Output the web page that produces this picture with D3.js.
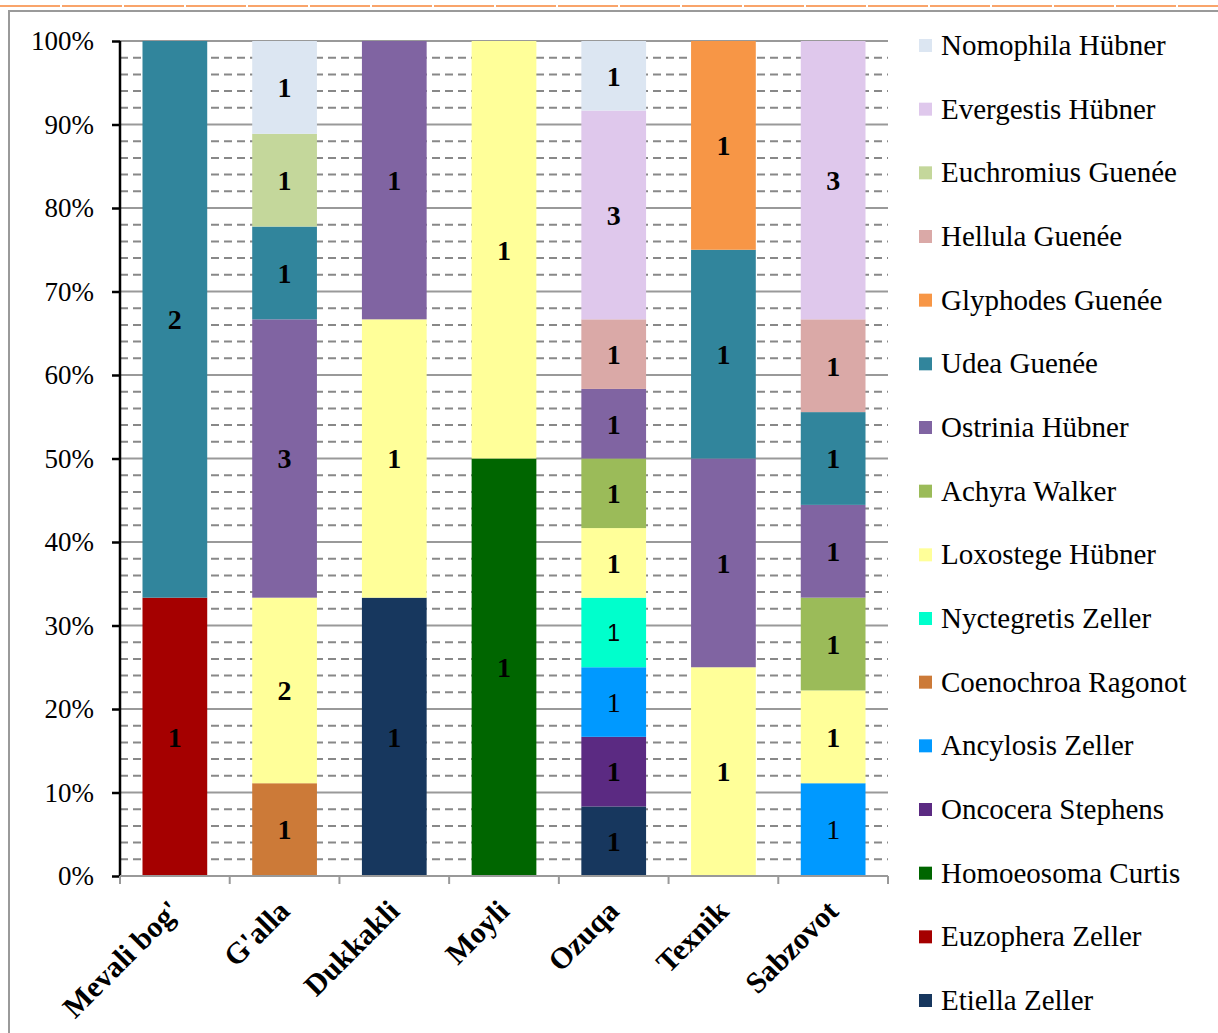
<!DOCTYPE html>
<html>
<head>
<meta charset="utf-8">
<script src="https://cdn.jsdelivr.net/npm/d3@7"></script>
<style>
  body { margin: 0; background: #fff; }
  svg { display: block; }
</style>
</head>
<body>
<svg id="chart"></svg>
<script>
// categories on the x axis
const categories = ["Mevali bog'", "G'alla", 'Dukkakli', 'Moyli', 'Ozuqa', 'Texnik', 'Sabzovot'];

// series, bottom of the stack first
const seriesNames = [
  'Etiella Zeller', 'Euzophera Zeller', 'Homoeosoma Curtis', 'Oncocera Stephens',
  'Ancylosis Zeller', 'Coenochroa Ragonot', 'Nyctegretis Zeller', 'Loxostege Hübner',
  'Achyra Walker', 'Ostrinia Hübner', 'Udea Guenée', 'Glyphodes Guenée',
  'Hellula Guenée', 'Euchromius Guenée', 'Evergestis Hübner', 'Nomophila Hübner',
];

const seriesColors = [
  '#17375E', '#A50000', '#006600', '#5B2A82',
  '#0099FF', '#CC7A38', '#00FFCC', '#FFFF99',
  '#9BBB59', '#8064A2', '#31859C', '#F79646',
  '#DAA9A7', '#C4D79B', '#DFC8EC', '#DCE6F2',
];

// counts per series, one value per category
const etiella     = [0, 0, 1, 0, 1, 0, 0];
const euzophera   = [1, 0, 0, 0, 0, 0, 0];
const homoeosoma  = [0, 0, 0, 1, 0, 0, 0];
const oncocera    = [0, 0, 0, 0, 1, 0, 0];
const ancylosis   = [0, 0, 0, 0, 1, 0, 1];
const coenochroa  = [0, 1, 0, 0, 0, 0, 0];
const nyctegretis = [0, 0, 0, 0, 1, 0, 0];
const loxostege   = [0, 2, 1, 1, 1, 1, 1];
const achyra      = [0, 0, 0, 0, 1, 0, 1];
const ostrinia    = [0, 3, 1, 0, 1, 1, 1];
const udea        = [2, 1, 0, 0, 0, 1, 1];
const glyphodes   = [0, 0, 0, 0, 0, 1, 0];
const hellula     = [0, 0, 0, 0, 1, 0, 1];
const euchromius  = [0, 1, 0, 0, 0, 0, 0];
const evergestis  = [0, 0, 0, 0, 3, 0, 3];
const nomophila   = [0, 1, 0, 0, 1, 0, 0];

const seriesValues = [
  etiella, euzophera, homoeosoma, oncocera, ancylosis, coenochroa, nyctegretis, loxostege,
  achyra, ostrinia, udea, glyphodes, hellula, euchromius, evergestis, nomophila,
];

const yTicks = [0, 0.1, 0.2, 0.3, 0.4, 0.5, 0.6, 0.7, 0.8, 0.9, 1];

const width = 1218;
const height = 1033;
const plot = { left: 120, right: 888, top: 41, bottom: 876 };
const serif = "'Liberation Serif', 'Times New Roman', serif";
const sans = "'Liberation Sans', Arial, sans-serif";

const svg = d3.select('#chart')
  .attr('width', width)
  .attr('height', height);

// frame: orange dashed rule and gray border
svg.append('line')
  .attr('x1', 0).attr('x2', width)
  .attr('y1', 6).attr('y2', 6)
  .style('stroke', '#F9A46B')
  .style('stroke-width', 2)
  .style('stroke-dasharray', '60,2');
svg.append('rect')
  .attr('x', 9).attr('y', 11)
  .attr('width', width + 20).attr('height', height + 20)
  .style('fill', 'none')
  .style('stroke', '#9a9a9a')
  .style('stroke-width', 2);

// build table of proportions
const table = categories.map((cat, i) => {
  const row = { cat };
  const total = d3.sum(seriesValues, (s) => s[i]);
  seriesNames.forEach((name, j) => {
    row[name] = seriesValues[j][i] / total;
    row[`${name}__n`] = seriesValues[j][i];
  });
  return row;
});

const stack = d3.stack().keys(seriesNames);
const layers = stack(table);

const x = d3.scaleBand()
  .domain(categories)
  .range([plot.left, plot.right])
  .paddingInner(0.41)
  .paddingOuter(0.205);

const y = d3.scaleLinear()
  .domain([0, 1])
  .range([plot.bottom, plot.top]);

const color = d3.scaleOrdinal()
  .domain(seriesNames)
  .range(seriesColors);

// minor dashed grid every 2%
const minor = d3.range(0, 101, 2).filter((v) => v % 10 !== 0).map((v) => v / 100);
svg.append('g')
  .selectAll('line')
  .data(minor)
  .join('line')
  .attr('x1', plot.left).attr('x2', plot.right)
  .attr('y1', (d) => y(d)).attr('y2', (d) => y(d))
  .style('stroke', '#888')
  .style('stroke-width', 2)
  .style('stroke-dasharray', '8,5');

// major solid grid
svg.append('g')
  .selectAll('line')
  .data(yTicks.filter((d) => d > 0))
  .join('line')
  .attr('x1', plot.left).attr('x2', plot.right)
  .attr('y1', (d) => y(d)).attr('y2', (d) => y(d))
  .style('stroke', '#999')
  .style('stroke-width', 2);

// stacked bars
const layerG = svg.append('g')
  .selectAll('g')
  .data(layers)
  .join('g')
  .attr('fill', (d) => color(d.key));

layerG.selectAll('rect')
  .data((d) => d.filter((p) => p[1] > p[0]))
  .join('rect')
  .attr('x', (d) => x(d.data.cat))
  .attr('width', x.bandwidth())
  .attr('y', (d) => y(d[1]))
  .attr('height', (d) => y(d[0]) - y(d[1]));

// value labels
svg.append('g')
  .selectAll('g')
  .data(layers)
  .join('g')
  .each(function (layer) {
    const plain = layer.key === 'Nyctegretis Zeller';
    const regular = layer.key === 'Ancylosis Zeller';
    d3.select(this).selectAll('text')
      .data(layer.filter((p) => p[1] > p[0]))
      .join('text')
      .attr('x', (d) => x(d.data.cat) + x.bandwidth() / 2)
      .attr('y', (d) => y((d[0] + d[1]) / 2))
      .attr('dy', '0.35em')
      .attr('text-anchor', 'middle')
      .style('font-family', plain ? sans : serif)
      .style('font-size', plain ? '23px' : '28px')
      .style('font-weight', plain || regular ? 'normal' : 'bold')
      .style('fill', '#000')
      .text((d) => d.data[`${layer.key}__n`]);
  });

// y axis
const yAxis = svg.append('g')
  .attr('transform', `translate(${plot.left},0)`)
  .call(d3.axisLeft(y).tickValues(yTicks).tickFormat(d3.format('.0%')).tickSize(8).tickPadding(18));
yAxis.select('.domain').style('stroke', '#000').style('stroke-width', 2.5)
  .attr('d', `M0,${plot.top}V${plot.bottom}`);
yAxis.selectAll('.tick line').style('stroke', '#000').style('stroke-width', 2.5);
yAxis.selectAll('.tick text')
  .style('font-family', serif)
  .style('font-size', '27px')
  .style('fill', '#000');

// x axis: gray line with ticks at category boundaries
const xAxisG = svg.append('g');
xAxisG.append('line')
  .attr('x1', plot.left).attr('x2', plot.right)
  .attr('y1', plot.bottom).attr('y2', plot.bottom)
  .style('stroke', '#999')
  .style('stroke-width', 2);
const step = x.step();
xAxisG.selectAll('.xtick')
  .data(d3.range(categories.length + 1))
  .join('line')
  .attr('class', 'xtick')
  .attr('x1', (i) => plot.left + i * step)
  .attr('x2', (i) => plot.left + i * step)
  .attr('y1', plot.bottom)
  .attr('y2', plot.bottom + 8)
  .style('stroke', '#999')
  .style('stroke-width', 2);

xAxisG.selectAll('.xlabel')
  .data(categories)
  .join('text')
  .attr('class', 'xlabel')
  .attr('transform', (d) => `translate(${x(d) + x.bandwidth() / 2 - 8},${plot.bottom + 22}) rotate(-45)`)
  .attr('dy', '0.7em')
  .attr('text-anchor', 'end')
  .style('font-family', serif)
  .style('font-size', '30px')
  .style('font-weight', 'bold')
  .style('fill', '#000')
  .text((d) => d);

// legend, top entry is the last series
const legendItems = seriesNames.slice().reverse();
const legendY = d3.scalePoint()
  .domain(legendItems)
  .range([45, 1000]);

const legend = svg.append('g')
  .selectAll('g')
  .data(legendItems)
  .join('g')
  .attr('transform', (d) => `translate(919,${legendY(d)})`);

legend.append('rect')
  .attr('x', 0).attr('y', -6)
  .attr('width', 13).attr('height', 13)
  .style('fill', (d) => color(d));

legend.append('text')
  .attr('x', 22)
  .attr('dy', '0.35em')
  .style('font-family', serif)
  .style('font-size', '29px')
  .style('fill', '#000')
  .text((d) => d);
</script>
</body>
</html>
